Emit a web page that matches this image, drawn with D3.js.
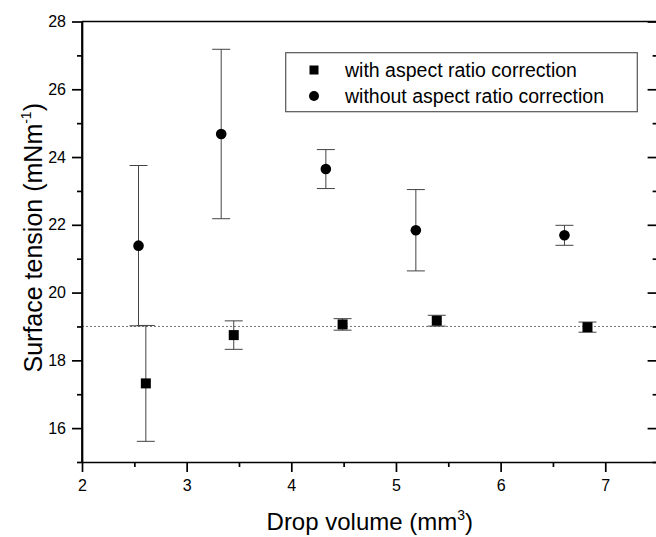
<!DOCTYPE html>
<html>
<head>
<meta charset="utf-8">
<script src="https://cdn.jsdelivr.net/npm/d3@7"></script>
<style>
  html, body { margin: 0; padding: 0; background: #fff; }
  svg { display: block; }
  text { font-family: "Liberation Sans", Arial, sans-serif; fill: #000; }
</style>
</head>
<body>
<svg id="chart" width="656" height="537"></svg>
<script>
// ---- data ----
const xWith = [2.61, 3.45, 4.49, 5.39, 6.83];
const yWith = [17.32, 18.745, 19.06, 19.17, 18.98];
const errWith = [1.71, 0.42, 0.17, 0.16, 0.15];

const xWithout = [2.54, 3.33, 4.33, 5.19, 6.61];
const yWithout = [21.385, 24.68, 23.645, 21.84, 21.69];
const errWithout = [2.365, 2.5, 0.575, 1.2, 0.295];

const refValue = 19;
const xTicks = [2, 3, 4, 5, 6, 7];
const xMinor = [2.5, 3.5, 4.5, 5.5, 6.5, 7.5];
const yTicks = [16, 18, 20, 22, 24, 26, 28];
const yMinor = [15, 17, 19, 21, 23, 25, 27];
const legendLabels = ["with aspect ratio correction", "without aspect ratio correction"];

// ---- layout ----
const svg = d3.select("#chart");
const L = 82, R = 657.6, T = 21.5, B = 462;
const x = d3.scaleLinear().domain([2, 7.5]).range([L, R]);
const y = d3.scaleLinear().domain([15, 28]).range([B, T]);

// reference dotted line
svg.append("line")
  .attr("x1", L).attr("x2", 656)
  .attr("y1", y(refValue)).attr("y2", y(refValue))
  .attr("stroke", "#777").attr("stroke-width", 1)
  .attr("stroke-dasharray", "2,2");

// axes
const axisStroke = 1.7;
const tickFont = 16;
function styleAxis(g) {
  g.selectAll("path.domain").attr("stroke", "#000").attr("stroke-width", axisStroke);
  g.selectAll(".tick line").attr("stroke", "#000").attr("stroke-width", axisStroke);
  g.selectAll(".tick text").attr("font-size", tickFont).attr("font-family", "'Liberation Sans', Arial, sans-serif");
}

// bottom
const gx = svg.append("g").attr("transform", `translate(0,${B})`)
  .call(d3.axisBottom(x).tickValues(xTicks).tickFormat(d3.format("d")).tickSizeInner(10).tickSizeOuter(0).tickPadding(8));
styleAxis(gx);
svg.append("g").attr("transform", `translate(0,${B})`)
  .call(d3.axisBottom(x).tickValues(xMinor).tickFormat("").tickSizeInner(5).tickSizeOuter(0))
  .call(g => { g.select("path.domain").remove(); g.selectAll(".tick line").attr("stroke", "#000").attr("stroke-width", axisStroke); });

// left
const gy = svg.append("g").attr("transform", `translate(${L},0)`)
  .call(d3.axisLeft(y).tickValues(yTicks).tickFormat(d3.format("d")).tickSizeInner(10).tickSizeOuter(0).tickPadding(6));
styleAxis(gy);
svg.append("g").attr("transform", `translate(${L},0)`)
  .call(d3.axisLeft(y).tickValues(yMinor).tickFormat("").tickSizeInner(5).tickSizeOuter(0))
  .call(g => { g.select("path.domain").remove(); g.selectAll(".tick line").attr("stroke", "#000").attr("stroke-width", axisStroke); });

svg.append("line").attr("x1", L).attr("x2", L).attr("y1", T).attr("y2", B)
  .attr("stroke", "#000").attr("stroke-width", axisStroke);

// top frame line (no ticks)
svg.append("line").attr("x1", L).attr("x2", R).attr("y1", T).attr("y2", T)
  .attr("stroke", "#000").attr("stroke-width", axisStroke);

// right axis (inward ticks)
const gr = svg.append("g").attr("transform", `translate(${R},0)`)
  .call(d3.axisLeft(y).tickValues(yTicks).tickFormat("").tickSizeInner(10).tickSizeOuter(0));
gr.selectAll("path.domain").attr("stroke", "#000").attr("stroke-width", axisStroke);
gr.selectAll(".tick line").attr("stroke", "#000").attr("stroke-width", axisStroke);
svg.append("g").attr("transform", `translate(${R},0)`)
  .call(d3.axisLeft(y).tickValues(yMinor).tickFormat("").tickSizeInner(5).tickSizeOuter(0))
  .call(g => { g.select("path.domain").remove(); g.selectAll(".tick line").attr("stroke", "#000").attr("stroke-width", axisStroke); });

// axis titles
const yTitle = svg.append("text")
  .attr("transform", `translate(42,${(T + B) / 2 - 4}) rotate(-90)`)
  .attr("text-anchor", "middle").attr("font-size", 25);
yTitle.append("tspan").text("Surface tension (mNm");
yTitle.append("tspan").attr("font-size", 14).attr("dy", -11).text("-1");
yTitle.append("tspan").attr("dy", 11).text(")");

const xTitle = svg.append("text")
  .attr("x", (L + R) / 2).attr("y", 530)
  .attr("text-anchor", "middle").attr("font-size", 24);
xTitle.append("tspan").text("Drop volume (mm");
xTitle.append("tspan").attr("font-size", 14).attr("dy", -10).text("3");
xTitle.append("tspan").attr("dy", 10).text(")");

// error bars
const capW = 9;
function errorBars(xs, ys, es) {
  const g = svg.append("g").attr("stroke", "#444").attr("stroke-width", 1).attr("fill", "none");
  xs.forEach((xv, i) => {
    const cx = x(xv), y1 = y(ys[i] + es[i]), y2 = y(ys[i] - es[i]);
    g.append("line").attr("x1", cx).attr("x2", cx).attr("y1", y1).attr("y2", y2);
    g.append("line").attr("x1", cx - capW).attr("x2", cx + capW).attr("y1", y1).attr("y2", y1);
    g.append("line").attr("x1", cx - capW).attr("x2", cx + capW).attr("y1", y2).attr("y2", y2);
  });
}
errorBars(xWithout, yWithout, errWithout);
errorBars(xWith, yWith, errWith);

// markers
const sq = 10;
svg.append("g").selectAll("rect").data(xWith).join("rect")
  .attr("x", (d) => x(d) - sq / 2)
  .attr("y", (d, i) => y(yWith[i]) - sq / 2)
  .attr("width", sq).attr("height", sq).attr("fill", "#000");
svg.append("g").selectAll("circle").data(xWithout).join("circle")
  .attr("cx", (d) => x(d))
  .attr("cy", (d, i) => y(yWithout[i]))
  .attr("r", 5.3).attr("fill", "#000");

// legend
const lg = svg.append("g");
lg.append("rect").attr("x", 285.7).attr("y", 52.7).attr("width", 351.6).attr("height", 59)
  .attr("fill", "#fff").attr("stroke", "#555").attr("stroke-width", 1.2);
const rowY = [70, 96];
lg.append("rect").attr("x", 314 - 4.5).attr("y", rowY[0] - 4.5).attr("width", 9).attr("height", 9).attr("fill", "#000");
lg.append("circle").attr("cx", 314).attr("cy", rowY[1]).attr("r", 5).attr("fill", "#000");
legendLabels.forEach((t, i) => {
  lg.append("text").attr("x", 345).attr("y", rowY[i]).attr("dy", "0.35em")
    .attr("font-size", 19.5).text(t);
});
</script>
</body>
</html>
